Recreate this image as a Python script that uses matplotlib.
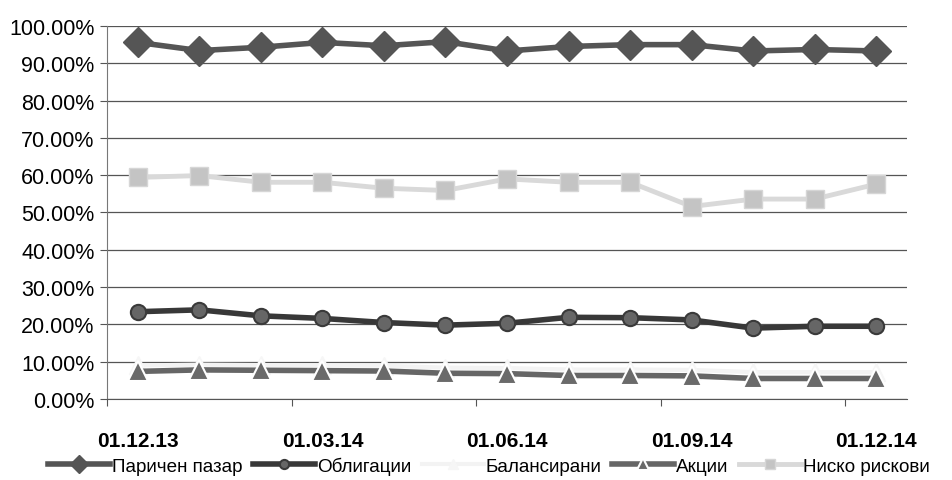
import numpy as np
import matplotlib.pyplot as plt
from matplotlib.ticker import FixedLocator, FuncFormatter

plt.rcParams['font.family'] = ['Liberation Sans', 'DejaVu Sans']

dates = ["01.12.13", "01.01.14", "01.02.14", "01.03.14", "01.04.14", "01.05.14", "01.06.14",
         "01.07.14", "01.08.14", "01.09.14", "01.10.14", "01.11.14", "01.12.14"]
money_market = [95.6, 93.4, 94.3, 95.6, 94.7, 95.8, 93.3, 94.5, 95.0, 95.0, 93.3, 93.7, 93.3]
bonds = [23.4, 23.9, 22.3, 21.6, 20.5, 19.8, 20.3, 21.9, 21.8, 21.2, 19.0, 19.5, 19.5]
balanced = [9.0, 9.2, 9.1, 9.0, 8.9, 8.4, 8.3, 7.9, 7.9, 7.8, 7.2, 7.2, 7.2]
stocks = [7.4, 7.8, 7.7, 7.6, 7.5, 6.9, 6.8, 6.3, 6.3, 6.2, 5.5, 5.5, 5.5]
low_risk = [59.4, 59.9, 58.1, 58.1, 56.5, 55.9, 59.0, 58.1, 58.1, 51.6, 53.6, 53.6, 57.6]
labels = ["Паричен пазар", "Облигации", "Балансирани", "Акции", "Ниско рискови"]

fig = plt.figure(figsize=(9.53, 4.81), dpi=100)
ax = fig.add_axes([0.1123, 0.1684, 0.8394, 0.7755])
x = np.arange(len(dates))

ax.plot(x, money_market, color="#555555", lw=4, marker="D", ms=15,
        mfc="#555555", mec="#555555", label=labels[0], zorder=5)
ax.plot(x, bonds, color="#383838", lw=4, marker="o", ms=11,
        mfc="#666666", mec="#3a3a3a", mew=1.5, label=labels[1], zorder=5)
ax.plot(x, balanced, color="#f3f3f3", lw=3, marker="^", ms=13,
        mfc="#f6f6f6", mec="#f6f6f6", label=labels[2], zorder=3)
ax.plot(x, stocks, color="#666666", lw=4, marker="^", ms=15,
        mfc="#6a6a6a", mec="white", mew=1.5, label=labels[3], zorder=4)
ax.plot(x, low_risk, color="#d9d9d9", lw=3.5, marker="s", ms=13,
        mfc="#c4c4c4", mec="#d6d6d6", label=labels[4], zorder=5)

ax.set_xlim(-0.5, len(dates) - 0.5)
ax.set_ylim(0, 100)
ax.set_yticks(np.arange(0, 101, 10))
ax.yaxis.set_major_formatter(FuncFormatter(lambda v, p: f"{v:.2f}%"))
ax.grid(axis="y", color="#555555", lw=0.9)
ax.set_axisbelow(True)

ax.xaxis.set_major_locator(FixedLocator([-0.5, 2.5, 5.5, 8.5, 11.5]))
ax.set_xticklabels([])
ax.set_xticks(x[::3], minor=True)
ax.set_xticklabels(dates[::3], minor=True, fontsize=15, fontweight="bold")
ax.tick_params(axis="x", which="minor", length=0, pad=23)
ax.tick_params(axis="x", which="major", length=5, color="#555555")
ax.tick_params(axis="y", length=5, color="#555555", labelsize=15.5, pad=4)

for s in ["top", "right"]:
    ax.spines[s].set_visible(False)
ax.spines["left"].set_color("#777777")
ax.spines["bottom"].set_color("#555555")

fig.legend(loc="center", bbox_to_anchor=(0.513, 0.03), ncol=5, frameon=False,
           fontsize=13.6, handlelength=3.3, handletextpad=0.1, columnspacing=0.55,
           markerscale=0.6)

fig.savefig("out.png", dpi=100)
